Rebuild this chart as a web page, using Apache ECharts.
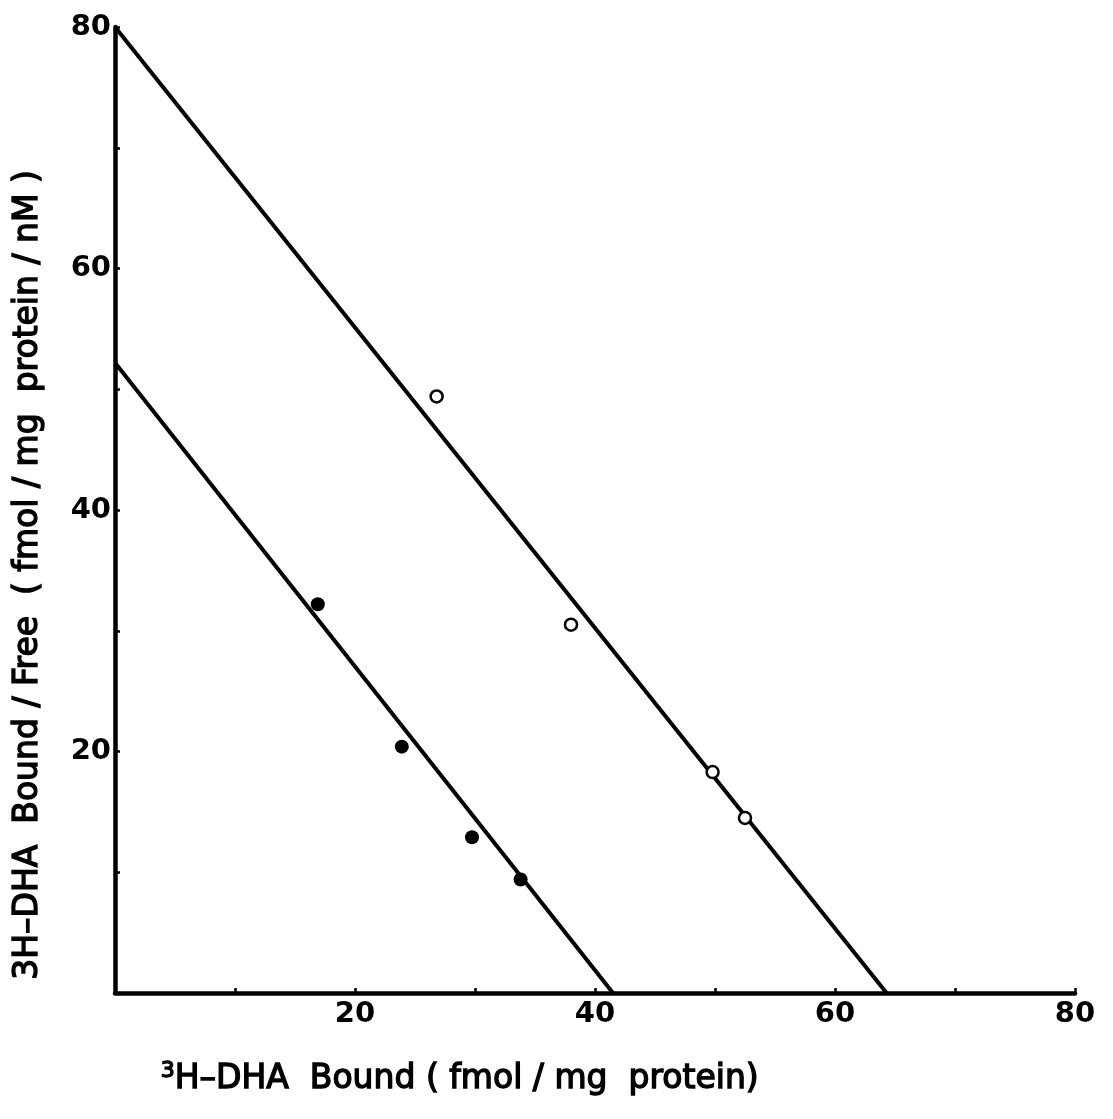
<!DOCTYPE html>
<html>
<head>
<meta charset="utf-8">
<title>Scatchard plot of 3H-DHA binding</title>
<script src="https://cdn.jsdelivr.net/npm/echarts@6/dist/echarts.min.js"></script>
<style>
  html, body { margin: 0; padding: 0; background: #fff; }
  #chart { width: 1113px; height: 1119px; }
</style>
</head>
<body>
<div id="chart"></div>
<script>
// Scatchard data: bound (fmol/mg protein) vs bound/free (fmol/mg protein/nM)
const openBound = [26.8, 38.0, 49.8, 52.5];
const openRatio = [49.4, 30.5, 18.3, 14.5];
const filledBound = [16.9, 23.9, 29.75, 33.8];
const filledRatio = [32.2, 20.4, 12.9, 9.4];

// Fitted regression lines: y-intercept and x-intercept
const upperFit = { yIntercept: 80, xIntercept: 64.3 };
const lowerFit = { yIntercept: 52.2, xIntercept: 41.5 };

const axisMax = 80;
const axisStep = 10;
const labelledTicks = [20, 40, 60, 80];

const pair = (xs, ys) => xs.map((x, i) => [x, ys[i]]);
const fitLine = f => [[0, f.yIntercept], [f.xIntercept, 0]];

const font = '"DejaVu Sans", Verdana, sans-serif';
const ink = '#000';
// thin outline in the text colour gives the heavier printed look
const heavyText = { stroke: ink, lineWidth: 1.4 };

const chart = echarts.init(document.getElementById('chart'), null, { renderer: 'canvas' });

const tickLabel = v => labelledTicks.includes(v) ? String(v) : '';

chart.setOption({
  backgroundColor: '#fff',
  animation: false,
  grid: { left: 115, right: 38, top: 27, bottom: 126, containLabel: false },
  xAxis: {
    type: 'value', min: 0, max: axisMax, interval: axisStep,
    axisLine: { show: true, lineStyle: { color: ink, width: 4.5 } },
    axisTick: { show: true, inside: true, length: 5, lineStyle: { color: ink, width: 2.5 } },
    axisLabel: { formatter: tickLabel, color: ink, fontFamily: font, fontSize: 29, fontWeight: 'bold', margin: 7 },
    splitLine: { show: false }
  },
  yAxis: {
    type: 'value', min: 0, max: axisMax, interval: axisStep,
    axisLine: { show: true, lineStyle: { color: ink, width: 4.5 } },
    axisTick: { show: true, inside: true, length: 5, lineStyle: { color: ink, width: 2.5 } },
    axisLabel: { formatter: tickLabel, color: ink, fontFamily: font, fontSize: 29, fontWeight: 'bold', margin: 4 },
    splitLine: { show: false }
  },
  graphic: [
    {
      type: 'text',
      left: 160, top: 1060,
      style: {
        text: '{sup|3}{main|H–DHA  Bound ( fmol / mg  protein)}',
        rich: {
          sup: Object.assign({ fontFamily: font, fontSize: 22, fill: ink, verticalAlign: 'top', padding: [0, 0, 16, 0] }, heavyText),
          main: Object.assign({ fontFamily: font, fontSize: 33, fill: ink }, heavyText)
        }
      }
    },
    {
      type: 'text',
      x: 28, y: 575,
      rotation: Math.PI / 2,
      style: Object.assign({
        text: '3H–DHA  Bound / Free  ( fmol / mg  protein / nM )',
        fontFamily: font, fontSize: 33, fill: ink,
        align: 'center', verticalAlign: 'middle'
      }, heavyText)
    }
  ],
  series: [
    {
      name: 'Upper fit', type: 'line', data: fitLine(upperFit),
      symbol: 'none', lineStyle: { color: ink, width: 4 }, z: 2
    },
    {
      name: 'Lower fit', type: 'line', data: fitLine(lowerFit),
      symbol: 'none', lineStyle: { color: ink, width: 4 }, z: 2
    },
    {
      name: 'Open', type: 'scatter', data: pair(openBound, openRatio),
      symbol: 'circle', symbolSize: 12,
      itemStyle: { color: '#fff', borderColor: ink, borderWidth: 2.5, opacity: 1 }, z: 3
    },
    {
      name: 'Filled', type: 'scatter', data: pair(filledBound, filledRatio),
      symbol: 'circle', symbolSize: 14,
      itemStyle: { color: ink, borderColor: ink, borderWidth: 0, opacity: 1 }, z: 3
    }
  ]
});
</script>
</body>
</html>
